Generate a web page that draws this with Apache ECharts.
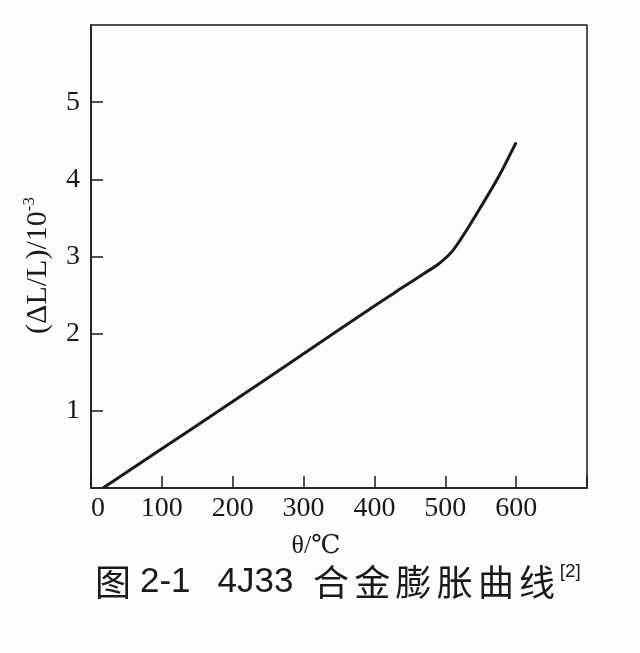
<!DOCTYPE html>
<html>
<head>
<meta charset="utf-8">
<script src="https://cdn.jsdelivr.net/npm/echarts@6/dist/echarts.min.js"></script>
<style>html,body{margin:0;padding:0;background:#fcfdfe;}#c{width:640px;height:653px;}</style>
</head>
<body>
<div id="c"></div>
<script>
// Temperature (°C) and relative expansion (ΔL/L, 10^-3)
var temps = [17, 100, 200, 300, 400, 440, 470, 490, 510, 530, 550, 575, 600];
var expansion = [0, 0.51, 1.12, 1.74, 2.36, 2.60, 2.78, 2.90, 3.07, 3.34, 3.64, 4.03, 4.48];
var xTicks = [0, 100, 200, 300, 400, 500, 600];
var yTicks = [1, 2, 3, 4, 5];

var serif = '"Liberation Serif", "DejaVu Serif", serif';
var cjk = '"Noto Sans CJK SC", sans-serif';
var latin = '"Liberation Sans", Arial, sans-serif';
var ink = '#1a1a1a';
var chart = echarts.init(document.getElementById('c'));
var seriesData = temps.map(function (t, i) { return [t, expansion[i]]; });

chart.setOption({
  backgroundColor: '#fcfdfe',
  animation: false,
  title: {
    text: '{a|图}{b|2-1}{d|4J33}{c|合}{c|金}{c|膨}{c|胀}{c|曲}{c|线}{s|[2]}',
    left: 90,
    top: 557,
    textStyle: {
      fontWeight: 'normal',
      rich: {
        a: { fontFamily: cjk, fontSize: 36, fontWeight: 'normal', color: ink, lineHeight: 40, padding: [0, 9, 0, 0] },
        b: { fontFamily: latin, fontSize: 35, fontWeight: 'normal', color: ink, lineHeight: 40, padding: [0, 27, 0, 0] },
        d: { fontFamily: latin, fontSize: 35, fontWeight: 'normal', color: ink, lineHeight: 40, padding: [0, 17, 0, 0] },
        c: { fontFamily: cjk, fontSize: 36, fontWeight: 'normal', color: ink, lineHeight: 40, padding: [0, 2.6, 0, 2.6] },
        s: { fontFamily: latin, fontSize: 19, fontWeight: 'normal', color: ink, lineHeight: 40, verticalAlign: 'top', padding: [0, 0, 18, 2] }
      }
    }
  },
  grid: {
    left: 91, right: 53, top: 25, bottom: 165,
    show: true, borderColor: ink, borderWidth: 1.5, backgroundColor: 'transparent'
  },
  xAxis: {
    type: 'value', min: 0, max: 700, interval: 100,
    name: 'θ/℃', nameLocation: 'middle', nameGap: 45,
    nameTextStyle: { fontFamily: serif, fontSize: 26, color: ink, padding: [0, 46, 0, 0] },
    axisLine: { lineStyle: { color: ink, width: 1.5 } },
    axisTick: { inside: true, length: 12, lineStyle: { color: ink, width: 1.5 } },
    splitLine: { show: false },
    axisLabel: {
      margin: 7, fontFamily: serif, fontSize: 28, color: ink,
      customValues: xTicks,
      formatter: function (v) {
        if (v === 0) return '{z|0}';
        return xTicks.indexOf(v) >= 0 ? String(v) : '';
      },
      rich: { z: { fontFamily: serif, fontSize: 28, color: ink, padding: [0, 0, 0, 14] } }
    }
  },
  yAxis: {
    type: 'value', min: 0, max: 6, interval: 1,
    name: '{n|(ΔL/L)/10}{p|-3}', nameLocation: 'middle', nameGap: 38, nameRotate: 90,
    nameTextStyle: {
      padding: [0, 18, 0, 0],
      rich: {
        n: { fontFamily: serif, fontSize: 30, color: ink, verticalAlign: 'bottom' },
        p: { fontFamily: serif, fontSize: 17, color: ink, verticalAlign: 'top', padding: [0, 0, 15, 0] }
      }
    },
    axisLine: { lineStyle: { color: ink, width: 1.5 } },
    axisTick: { inside: true, length: 12, lineStyle: { color: ink, width: 1.5 }, customValues: yTicks },
    splitLine: { show: false },
    axisLabel: {
      margin: 11, fontFamily: serif, fontSize: 28, color: ink,
      customValues: yTicks,
      formatter: function (v) { return yTicks.indexOf(v) >= 0 ? String(v) : ''; }
    }
  },
  series: [{
    type: 'line',
    data: seriesData,
    smooth: 0.3,
    showSymbol: false,
    lineStyle: { color: ink, width: 3 }
  }]
});
</script>
</body>
</html>
